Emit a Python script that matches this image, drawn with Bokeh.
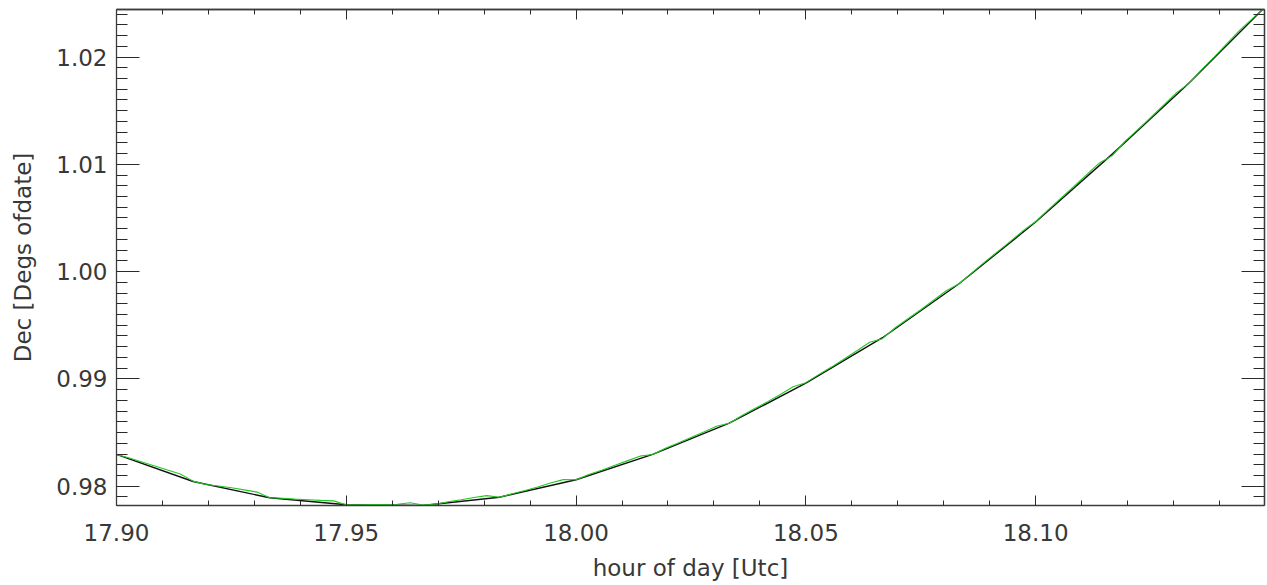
from bokeh.plotting import figure
from bokeh.models import (Range1d, LinearAxis, SingleIntervalTicker, FixedTicker,
                          PrintfTickFormatter, ColumnDataSource)
from bokeh.embed import file_html
from bokeh.resources import INLINE

# ---- data (hour of day [UTC], Dec [deg of date]) ----
fit_time_h = [17.90000, 17.91667, 17.93333, 17.95000, 17.96667, 17.98333, 18.00000, 18.01667,
              18.03333, 18.05000, 18.06667, 18.08333, 18.10000, 18.11667, 18.13333, 18.15000]
fit_dec = [0.98296, 0.98044, 0.97892, 0.97827, 0.97820, 0.97897, 0.98060, 0.98296,
           0.98587, 0.98960, 0.99384, 0.99887, 1.00462, 1.01095, 1.01755, 1.02470]

obs_time_h = [17.90000, 17.90278, 17.90556, 17.90833, 17.91111, 17.91389,
              17.91667, 17.91944, 17.92222, 17.92500, 17.92778, 17.93056,
              17.93333, 17.93611, 17.93889, 17.94167, 17.94444, 17.94722,
              17.95000, 17.95278, 17.95556, 17.95833, 17.96111, 17.96389,
              17.96667, 17.96944, 17.97222, 17.97500, 17.97778, 17.98056,
              17.98333, 17.98611, 17.98889, 17.99167, 17.99444, 17.99722,
              18.00000, 18.00278, 18.00556, 18.00833, 18.01111, 18.01389,
              18.01667, 18.01944, 18.02222, 18.02500, 18.02778, 18.03056,
              18.03333, 18.03611, 18.03889, 18.04167, 18.04444, 18.04722,
              18.05000, 18.05278, 18.05556, 18.05833, 18.06111, 18.06389,
              18.06667, 18.06944, 18.07222, 18.07500, 18.07778, 18.08056,
              18.08333, 18.08611, 18.08889, 18.09167, 18.09444, 18.09722,
              18.10000, 18.10278, 18.10556, 18.10833, 18.11111, 18.11389,
              18.11667, 18.11944, 18.12222, 18.12500, 18.12778, 18.13056,
              18.13333, 18.13611, 18.13889, 18.14167, 18.14444, 18.14722,
              18.15000]
obs_dec = [0.98296, 0.98263, 0.98226, 0.98189, 0.98151, 0.98114,
           0.98047, 0.98016, 0.98002, 0.97985, 0.97966, 0.97945,
           0.97892, 0.97888, 0.97879, 0.97874, 0.97868, 0.97863,
           0.97827, 0.97826, 0.97828, 0.97829, 0.97831, 0.97846,
           0.97825, 0.97833, 0.97855, 0.97873, 0.97894, 0.97912,
           0.97897, 0.97929, 0.97960, 0.97993, 0.98029, 0.98061,
           0.98060, 0.98108, 0.98148, 0.98192, 0.98236, 0.98280,
           0.98296, 0.98354, 0.98402, 0.98453, 0.98504, 0.98558,
           0.98587, 0.98658, 0.98725, 0.98788, 0.98855, 0.98926,
           0.98965, 0.99040, 0.99110, 0.99186, 0.99262, 0.99341,
           0.99375, 0.99477, 0.99561, 0.99645, 0.99733, 0.99822,
           0.99887, 0.99988, 1.00088, 1.00184, 1.00279, 1.00380,
           1.00467, 1.00577, 1.00687, 1.00793, 1.00903, 1.01013,
           1.01081, 1.01214, 1.01324, 1.01434, 1.01549, 1.01664,
           1.01755, 1.01883, 1.02002, 1.02127, 1.02251, 1.02360,
           1.02470]

x_label = "hour of day [Utc]"
y_label = "Dec [Degs ofdate]"
x_start, x_end = 17.90, 18.1498
y_start, y_end = 0.97820, 1.02443

# tick positions (major labelled; minor unlabelled), mirrored on top/right
x_major_ticks = [17.90, 17.95, 18.00, 18.05, 18.10]
x_minor_ticks = [round(17.90 + 0.01 * i, 2) for i in range(25)]
y_major_ticks = [0.98, 0.99, 1.00, 1.01, 1.02]
y_minor_ticks = [round(0.978 + 0.001 * i, 3) for i in range(47)]

FONT = "DejaVu Sans"
TXT = "#383838"
AXC = "#3c3c3c"
TKC = "#2a2a2a"

p = figure(frame_width=1148, frame_height=496,
           x_range=Range1d(x_start, x_end), y_range=Range1d(y_start, y_end),
           x_axis_type=None, y_axis_type=None,
           output_backend="svg", toolbar_location=None,
           min_border_left=116, min_border_right=2, min_border_top=9, min_border_bottom=79)
p.outline_line_color = None
p.background_fill_color = "white"
p.border_fill_color = "white"


def base_style(ax):
    ax.axis_line_color = AXC
    ax.axis_line_width = 1.3
    ax.major_tick_out = 0
    ax.minor_tick_out = 0
    ax.major_tick_line_color = TKC
    ax.minor_tick_line_color = TKC
    ax.major_tick_line_width = 1
    ax.minor_tick_line_width = 1


def label_axis(kind):
    if kind == "x":
        ax = LinearAxis(ticker=FixedTicker(ticks=x_major_ticks, minor_ticks=x_minor_ticks),
                        formatter=PrintfTickFormatter(format="%.2f"))
        ax.major_tick_in, ax.minor_tick_in = 10, 5
    else:
        ax = LinearAxis(ticker=FixedTicker(ticks=y_major_ticks, minor_ticks=y_minor_ticks),
                        formatter=PrintfTickFormatter(format="%.2f"))
        ax.major_tick_in, ax.minor_tick_in = 23, 11
    base_style(ax)
    ax.major_label_text_font = FONT
    ax.major_label_text_font_size = "23px"
    ax.major_label_text_color = TXT
    ax.axis_label_text_font = FONT
    ax.axis_label_text_font_size = "23px"
    ax.axis_label_text_font_style = "normal"
    ax.axis_label_text_color = TXT
    return ax


def mirror_axis(positions, length):
    # tick marks only: no major ticks -> no labels
    ax = LinearAxis(ticker=FixedTicker(ticks=[], minor_ticks=positions))
    base_style(ax)
    ax.major_tick_in = 0
    ax.minor_tick_in = length
    ax.major_label_standoff = 0
    ax.axis_label = None
    return ax


xb = label_axis("x")
xb.axis_label = x_label
xb.major_label_standoff = 18
xb.axis_label_standoff = 11
p.add_layout(xb, "below")

yl = label_axis("y")
yl.axis_label = y_label
yl.major_label_standoff = 9
yl.axis_label_standoff = 17
p.add_layout(yl, "left")

p.add_layout(mirror_axis(x_major_ticks, 10), "above")
p.add_layout(mirror_axis(x_minor_ticks, 5), "above")
p.add_layout(mirror_axis(y_major_ticks, 23), "right")
p.add_layout(mirror_axis(y_minor_ticks, 11), "right")

fit_src = ColumnDataSource(dict(t=fit_time_h, d=fit_dec))
obs_src = ColumnDataSource(dict(t=obs_time_h, d=obs_dec))
p.line("t", "d", source=fit_src, line_color="#111111", line_width=1.4)
p.line("t", "d", source=obs_src, line_color="#22c822", line_width=1.1)

open("out.html", "w").write(file_html(p, INLINE))
